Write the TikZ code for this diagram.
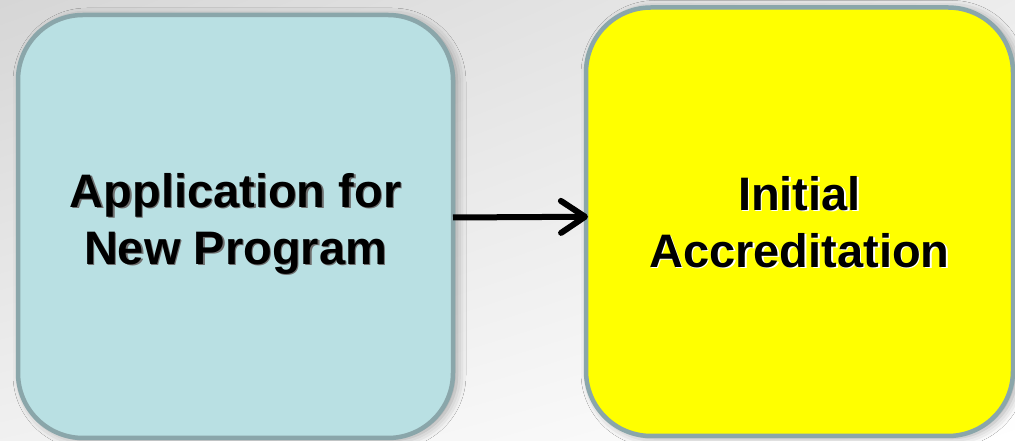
\documentclass[tikz,border=0pt]{standalone}
\usepackage{fontspec}
\setmainfont{Liberation Sans}
\usetikzlibrary{arrows.meta,shadows.blur,shadings}

\definecolor{bordergray}{RGB}{138,166,170}
\definecolor{paleblue}{RGB}{185,224,227}
\definecolor{brightyellow}{RGB}{255,255,0}
\definecolor{bgdark}{RGB}{214,214,214}
\definecolor{bglight}{RGB}{255,255,255}
\definecolor{textshade}{RGB}{110,110,110}

% a line of text with a small offset shadow behind it
\newcommand\castline[2]{\leavevmode\rlap{\kern1.6pt\raisebox{-1.6pt}{\textcolor{#1}{#2}}}#2}

\tikzset{
  stagebox/.style={
    draw=bordergray, line width=4.5pt, rounded corners=65pt,
    inner sep=0pt, outer sep=0pt,
    blur shadow={shadow xshift=4pt, shadow yshift=-2pt,
                 shadow blur radius=9pt, shadow opacity=35}
  },
  stagetext/.style={
    font=\fontsize{47}{57}\selectfont\bfseries, align=center,
    inner sep=0pt
  },
  flow/.style={
    line width=6pt, draw=black,
    -{Straight Barb[length=24pt,width=32pt,line cap=round,line join=round]}
  }
}

\begin{document}
\begin{tikzpicture}[x=1pt,y=1pt]
  % page background: soft diagonal gray-to-white wash
  \shade[shading=bilinear interpolation,
         upper left=bgdark, upper right=bgdark!45!bglight,
         lower left=bgdark!35!bglight, lower right=bglight]
    (0,0) rectangle (1015,441);
  \useasboundingbox (0,0) rectangle (1015,441);

  % the two stages
  \node[stagebox, fill=paleblue, minimum width=435pt, minimum height=423pt]
    (app) at (235.5,214.5) {};
  \node[stagebox, fill=brightyellow, minimum width=427pt, minimum height=428.5pt]
    (init) at (799.5,219.25) {};

  % stage labels
  \node[stagetext] (applabel) at ([yshift=2pt]app.center)
    {\castline{textshade}{Application for}\\\castline{textshade}{New Program}};
  \node[stagetext] (initlabel) at ([yshift=-1pt]init.center)
    {\castline{white}{Initial}\\\castline{white}{Accreditation}};

  % transition between the stages
  \draw[flow] ([yshift=9pt]app.east) -- ([yshift=5pt,xshift=2pt]init.west);
\end{tikzpicture}
\end{document}
